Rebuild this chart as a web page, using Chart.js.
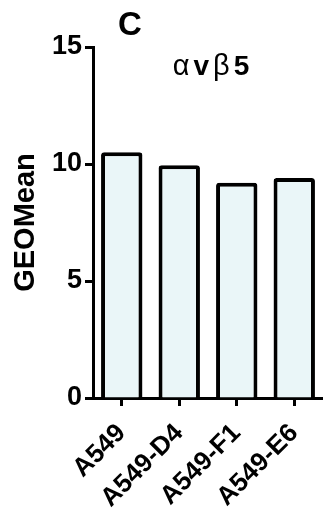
<!DOCTYPE html>
<html>
<head>
<meta charset="utf-8">
<script src="https://cdn.jsdelivr.net/npm/chart.js@4/dist/chart.umd.min.js"></script>
<style>
  html, body { margin: 0; padding: 0; background: #ffffff; }
  #wrap { width: 323px; height: 510px; }
</style>
</head>
<body>
<div id="wrap"><canvas id="c" width="323" height="510"></canvas></div>
<script>
// Cell lines and their mean fluorescence (GEOMean) for integrin αvβ5
const categories = ['A549', 'A549-D4', 'A549-F1', 'A549-E6'];
const geoMean = [10.5, 9.95, 9.2, 9.4];
const yTicks = [0, 5, 10, 15];

const FONT = '"Liberation Sans", Arial, Helvetica, sans-serif';

// Panel letter and integrin heading
const headings = {
  id: 'headings',
  afterDraw(chart) {
    const ctx = chart.ctx;
    ctx.save();
    ctx.fillStyle = '#000';
    ctx.textBaseline = 'middle';
    ctx.textAlign = 'center';
    ctx.font = 'bold 33px ' + FONT;
    ctx.fillText('C', 130, 26);

    // αvβ5 : Greek letters in regular weight, the rest bold
    const parts = [
      ['α', 'normal 29px ' + FONT],
      ['v', 'bold 28px ' + FONT],
      ['β', 'normal 29px ' + FONT],
      ['5', 'bold 28px ' + FONT]
    ];
    const gap = 4;
    let total = -gap;
    parts.forEach(p => { ctx.font = p[1]; total += ctx.measureText(p[0]).width + gap; });
    let x = 211 - total / 2;
    ctx.textAlign = 'left';
    parts.forEach(p => {
      ctx.font = p[1];
      ctx.fillText(p[0], x, 67);
      x += ctx.measureText(p[0]).width + gap;
    });
    ctx.restore();
  }
};

new Chart(document.getElementById('c'), {
  type: 'bar',
  data: {
    labels: categories,
    datasets: [{
      data: geoMean,
      backgroundColor: '#eaf6f8',
      borderColor: '#000',
      borderWidth: 4,
      borderRadius: 3,
      borderSkipped: 'start',
      barPercentage: 0.72,
      categoryPercentage: 1.0
    }]
  },
  options: {
    responsive: false,
    devicePixelRatio: 1,
    animation: false,
    layout: { padding: { top: 47, right: 0, bottom: 0, left: 0 } },
    plugins: { legend: { display: false }, tooltip: { enabled: false }, title: { display: false } },
    scales: {
      x: {
        offset: true,
        grid: { display: true, offset: false, drawOnChartArea: false, drawTicks: true, tickLength: 8, tickWidth: 3, tickColor: '#000' },
        border: { display: true, color: '#000', width: 3 },
        ticks: {
          color: '#000',
          font: { family: FONT, size: 26, weight: 'bold' },
          minRotation: 45, maxRotation: 45,
          padding: 12
        },
        afterFit(scale) {
          scale.height = 112;
          scale.paddingLeft = 0;
          scale.paddingRight = 0;
        }
      },
      y: {
        min: 0, max: 15,
        afterBuildTicks(scale) { scale.ticks = yTicks.map(v => ({ value: v })); },
        grid: { display: true, drawOnChartArea: false, drawTicks: true, tickLength: 8, tickWidth: 3, tickColor: '#000' },
        border: { display: true, color: '#000', width: 3 },
        ticks: {
          color: '#000',
          font: { family: FONT, size: 27, weight: 'bold' },
          padding: 3
        },
        title: {
          display: true,
          text: 'GEOMean',
          color: '#000',
          font: { family: FONT, size: 29, weight: 'bold' },
          padding: { top: 9, bottom: 0 }
        },
        afterFit(scale) { scale.width = 93; }
      }
    }
  },
  plugins: [headings]
});
</script>
</body>
</html>
